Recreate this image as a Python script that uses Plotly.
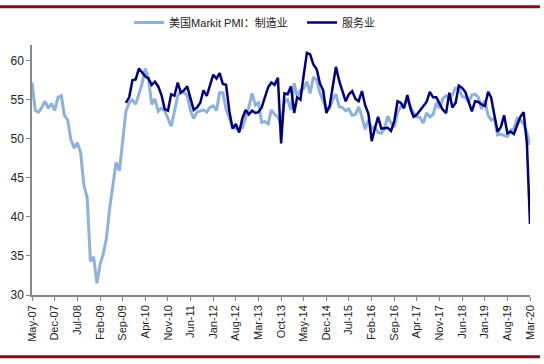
import pandas as pd
import plotly.graph_objects as go

# Monthly, May-2007 .. Mar-2020
months = pd.date_range("2007-05-01", "2020-03-01", freq="MS")

manufacturing = [
    57.2, 53.6, 53.4, 54.0, 54.8, 53.9, 54.5, 53.6, 55.3, 55.5,
    53.0, 52.4, 49.9, 48.8, 49.5, 48.2, 44.0, 42.5, 34.3, 34.9,
    31.5, 34.0, 35.2, 37.3, 41.1, 44.4, 47.0, 45.9, 50.0, 53.5,
    54.6, 55.0, 54.4, 55.9, 57.0, 59.0, 57.8, 54.4, 55.1, 53.5,
    53.9, 53.6, 52.6, 51.6, 53.5, 55.5, 56.1, 55.8, 55.6, 53.6,
    52.6, 53.4, 53.6, 53.7, 53.4, 54.0, 54.2, 53.6, 55.9, 55.9,
    53.8, 52.5, 51.5, 51.3, 51.2, 51.4, 52.8, 54.0, 55.8, 54.3,
    54.6, 52.1, 52.2, 51.9, 53.7, 53.1, 52.8, 51.8, 54.7, 55.0,
    53.7, 57.1, 55.5, 56.2, 56.4, 57.3, 55.8, 57.9, 57.5, 55.9,
    54.8, 53.9, 53.9, 55.1, 55.7, 54.1, 54.0, 53.6, 53.8, 53.0,
    53.1, 54.1, 52.8, 51.2, 52.4, 51.3, 51.5, 50.8, 50.7, 51.3,
    52.9, 52.0, 51.5, 53.4, 54.1, 54.3, 55.0, 54.2, 53.3, 52.8,
    52.7, 52.0, 53.3, 52.8, 53.1, 54.6, 53.9, 55.1, 55.5, 55.3,
    55.6, 56.5, 56.4, 55.4, 55.3, 54.7, 55.6, 55.7, 55.3, 53.8,
    54.9, 53.0, 52.4, 52.6, 50.5, 50.6, 50.4, 50.3, 51.1, 51.3,
    52.6, 52.4, 51.9, 50.7, 49.2,
]

# Services series starts Oct-2009
services_start = "2009-10-01"
services = [
    54.6, 55.3, 57.5, 57.6, 59.0, 58.5, 58.0, 57.7, 56.9, 57.3,
    56.7, 55.6, 53.8, 53.6, 55.7, 55.5, 57.2, 55.9, 56.2, 56.7,
    55.3, 53.7, 54.0, 54.6, 56.2, 55.5, 56.8, 58.2, 57.7, 58.4,
    57.0, 56.9, 53.5, 51.3, 51.9, 50.8, 52.6, 53.7, 53.1, 53.6,
    53.3, 53.4, 54.0, 55.2, 56.6, 57.2, 56.9, 57.8, 49.4, 55.8,
    55.7, 56.7, 53.3, 55.3, 55.0, 58.1, 61.0, 60.8, 59.5, 58.9,
    57.1, 56.2, 53.3, 54.2, 57.1, 59.2, 57.4, 56.2, 54.8, 55.7,
    56.1, 55.1, 54.8, 56.1, 54.3, 53.2, 49.7, 51.3, 52.8, 51.3,
    51.4, 51.4, 51.0, 52.3, 54.8, 54.6, 53.9, 55.6, 53.8, 52.8,
    53.1, 53.6, 54.2, 54.7, 56.0, 55.3, 55.3, 54.5, 53.7, 53.3,
    55.9, 54.0, 54.6, 56.8, 56.5, 56.0, 54.8, 53.5, 54.8, 54.7,
    54.4, 54.2, 56.0, 55.3, 53.0, 50.9, 51.5, 53.0, 50.7, 50.9,
    50.6, 51.6, 52.8, 53.4, 49.4, 39.1,
]
services_months = pd.date_range(services_start, periods=len(services), freq="MS")

tick_labels = ["May-07", "Dec-07", "Jul-08", "Feb-09", "Sep-09", "Apr-10", "Nov-10",
               "Jun-11", "Jan-12", "Aug-12", "Mar-13", "Oct-13", "May-14", "Dec-14",
               "Jul-15", "Feb-16", "Sep-16", "Apr-17", "Nov-17", "Jun-18", "Jan-19",
               "Aug-19", "Mar-20"]
tick_dates = list(months[::7])

name_mfg = "美国Markit PMI：制造业"
name_srv = "服务业"

fig = go.Figure()
fig.add_trace(go.Scatter(x=months, y=manufacturing, mode="lines", name=name_mfg,
                         line=dict(color="#8FB1DC", width=3)))
fig.add_trace(go.Scatter(x=services_months, y=services, mode="lines", name=name_srv,
                         line=dict(color="#00007F", width=2.5)))

font_family = "Liberation Sans, Arial, Noto Sans CJK SC, sans-serif"

fig.update_layout(
    width=544, height=364,
    margin=dict(l=32, r=8, t=40, b=69),
    paper_bgcolor="white", plot_bgcolor="white",
    font=dict(family=font_family, size=12, color="#222222"),
    showlegend=True,
    legend=dict(orientation="h", x=0.195, xanchor="left", y=1.09, yanchor="middle",
                font=dict(size=11, color="#222222"),
                entrywidth=128, entrywidthmode="pixels",
                bgcolor="rgba(0,0,0,0)", tracegroupgap=0),
    xaxis=dict(range=[months[0], months[-1]], showgrid=False, zeroline=False,
               showline=True, linecolor="#888888", linewidth=1.5,
               ticks="outside", ticklen=4, tickcolor="#888888",
               tickvals=tick_dates, ticktext=tick_labels, tickangle=-90,
               tickfont=dict(size=11, color="#222222")),
    yaxis=dict(range=[30, 62], showgrid=False, zeroline=False,
               showline=True, linecolor="#888888", linewidth=1.5,
               ticks="outside", ticklen=4, tickcolor="#888888",
               tickvals=[30, 35, 40, 45, 50, 55, 60],
               tickfont=dict(size=12, color="#222222")),
    shapes=[
        dict(type="line", xref="paper", yref="paper", x0=-0.07, x1=1.02,
             y0=1.153, y1=1.153, line=dict(color="#7B1113", width=3)),
        dict(type="line", xref="paper", yref="paper", x0=-0.07, x1=1.02,
             y0=-0.247, y1=-0.247, line=dict(color="#7B1113", width=3)),
    ],
)
fig.write_html("out.html",
               config={"displayModeBar": False},
               post_script="document.body.style.margin='0';document.body.style.overflow='hidden';")
